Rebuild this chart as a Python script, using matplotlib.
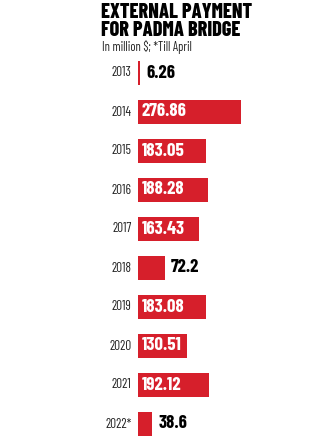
import matplotlib
matplotlib.use("Agg")
import matplotlib.pyplot as plt

# data
years = ["2013", "2014", "2015", "2016", "2017", "2018", "2019", "2020", "2021", "2022*"]
payments = [6.26, 276.86, 183.05, 188.28, 163.43, 72.2, 183.08, 130.51, 192.12, 38.6]
labels = ["6.26", "276.86", "183.05", "188.28", "163.43", "72.2", "183.08", "130.51", "192.12", "38.6"]

RED = "#d61f2b"
FONT = ["Barlow Condensed", "Roboto Condensed", "DejaVu Sans"]

fig = plt.figure(figsize=(3.36, 4.48), dpi=100)
fig.patch.set_facecolor("white")

# axes spans whole figure; bars start at x=138px
ax = fig.add_axes([138 / 336, 0, 198 / 336, 1])
ax.set_xlim(0, 198 / 0.372)
ax.set_ylim((448 - 73) / 39.0, -73 / 39.0)
ax.axis("off")

pos = list(range(len(years)))
ax.barh(pos, payments, height=0.59, color=RED)

for i, v in enumerate(payments):
    # year labels left of the bars
    ax.annotate(years[i], (0, i), xytext=(-4.5, 0), textcoords="offset points",
                ha="right", va="center", fontsize=9.5, family=FONT, color="#222222")
    if v > 100:
        ax.annotate(labels[i], (0, i), xytext=(2.5, 0), textcoords="offset points",
                    ha="left", va="center", fontsize=13.5, fontweight="bold",
                    family=FONT, color="white")
    else:
        ax.annotate(labels[i], (v, i), xytext=(4.5, 0), textcoords="offset points",
                    ha="left", va="center", fontsize=13.5, fontweight="bold",
                    family=FONT, color="black")

fig.text(101 / 336, 1 - 3 / 448, "EXTERNAL PAYMENT\nFOR PADMA BRIDGE", ha="left", va="top",
         fontsize=14.5, fontweight="heavy", family=FONT, linespacing=0.93)
fig.text(102 / 336, 1 - 40 / 448, "In million $; *Till April", ha="left", va="top",
         fontsize=9, family=FONT, color="#222222")

fig.savefig("out.png", dpi=100)
